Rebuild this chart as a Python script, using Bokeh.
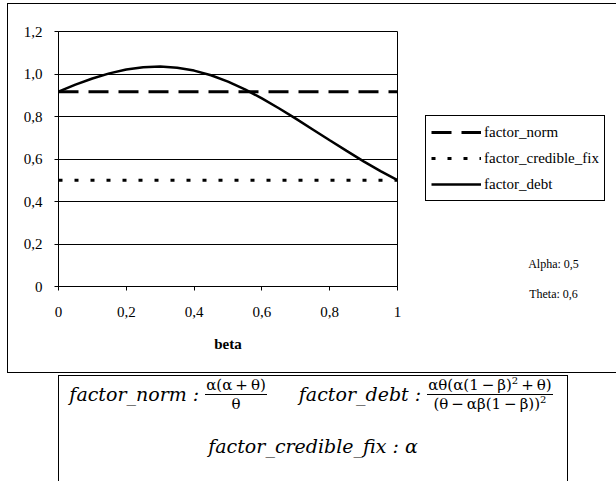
from bokeh.plotting import figure
from bokeh.models import (Range1d, FixedTicker, CustomJSTickFormatter, Legend, LegendItem,
                          Label, Div)
from bokeh.layouts import column, row
from bokeh.embed import file_html
from bokeh.resources import INLINE

# ---- data ----
beta = [0, 0.05, 0.1, 0.15, 0.2, 0.25, 0.3, 0.35, 0.4, 0.45, 0.5,
        0.55, 0.6, 0.65, 0.7, 0.75, 0.8, 0.85, 0.9, 0.95, 1]
factor_debt = [0.917, 0.950, 0.979, 1.003, 1.021, 1.032, 1.035, 1.029, 1.016, 0.994, 0.964,
               0.928, 0.885, 0.839, 0.790, 0.739, 0.688, 0.638, 0.589, 0.543, 0.5]
flat_beta = [0, 1]
factor_norm = [0.917, 0.917]
factor_credible_fix = [0.5, 0.5]
x_ticks = [0, 0.2, 0.4, 0.6, 0.8, 1]
y_ticks = [0, 0.2, 0.4, 0.6, 0.8, 1.0, 1.2]
param_texts = ["Alpha: 0,5", "Theta: 0,6"]
series_names = ["factor_norm", "factor_credible_fix", "factor_debt"]

FONT = "Liberation Serif"
NORM_STYLE = dict(line_color="black", line_width=3, line_dash="20 10")
CRED_STYLE = dict(line_color="black", line_width=3, line_dash="4 12")
DEBT_STYLE = dict(line_color="black", line_width=2.5)

# ---- main chart ----
p = figure(width=394, height=368, output_backend="svg", toolbar_location=None,
           x_range=Range1d(0, 1), y_range=Range1d(0, 1.2),
           min_border_left=50, min_border_top=27, min_border_right=5, min_border_bottom=86,
           frame_width=339, frame_height=255, frame_align=False)
p.outline_line_color = "black"
p.outline_line_width = 1
p.background_fill_color = "white"
p.border_fill_color = "white"

p.line(flat_beta, factor_norm, **NORM_STYLE)
p.line(flat_beta, factor_credible_fix, **CRED_STYLE)
p.line(beta, factor_debt, **DEBT_STYLE)

fmt_x = CustomJSTickFormatter(code="""
if (Math.abs(tick) < 1e-9) return '0';
if (Math.abs(tick - 1) < 1e-9) return '1';
return tick.toFixed(1).replace('.', ',');
""")
fmt_y = CustomJSTickFormatter(code="""
if (Math.abs(tick) < 1e-9) return '0';
return tick.toFixed(1).replace('.', ',');
""")

xa = p.xaxis[0]
xa.ticker = FixedTicker(ticks=x_ticks)
xa.formatter = fmt_x
ya = p.yaxis[0]
ya.ticker = FixedTicker(ticks=y_ticks)
ya.formatter = fmt_y
for ax in (xa, ya):
    ax.axis_line_color = "black"
    ax.axis_line_width = 1
    ax.major_tick_line_color = "black"
    ax.major_tick_out = 4
    ax.major_tick_in = 0
    ax.minor_tick_line_color = None
    ax.major_label_text_font = FONT
    ax.major_label_text_font_size = "15px"
    ax.major_label_text_color = "black"
xa.major_label_standoff = 16
ya.major_label_standoff = 12
xa.axis_label = "beta"
xa.axis_label_text_font = FONT
xa.axis_label_text_font_style = "bold"
xa.axis_label_text_font_size = "15px"
xa.axis_label_text_color = "black"
xa.axis_label_standoff = 16

p.xgrid.grid_line_color = None
p.ygrid.grid_line_color = "black"
p.ygrid.grid_line_width = 1
p.ygrid.ticker = FixedTicker(ticks=y_ticks)

# ---- right side panel: legend + parameters ----
q = figure(width=214, height=368, output_backend="svg", toolbar_location=None, title=None,
           x_range=Range1d(0, 191), y_range=Range1d(0, 257),
           min_border_left=23, min_border_top=111, min_border_right=0, min_border_bottom=0,
           frame_width=191, frame_height=257, frame_align=False,
           x_axis_location=None, y_axis_location=None)
q.outline_line_color = None
q.xgrid.grid_line_color = None
q.ygrid.grid_line_color = None
q.background_fill_color = "white"
q.border_fill_color = "white"
# proxy renderers for the legend keys: same series, on a range that keeps them out of view
q.extra_x_ranges = {"off": Range1d(10, 20)}
q.extra_y_ranges = {"off": Range1d(10, 20)}
ln = q.line(flat_beta, factor_norm, x_range_name="off", y_range_name="off", **NORM_STYLE)
lc = q.line(flat_beta, factor_credible_fix, x_range_name="off", y_range_name="off", **CRED_STYLE)
ld = q.line(beta, factor_debt, x_range_name="off", y_range_name="off", **DEBT_STYLE)

legend = Legend(items=[LegendItem(label=series_names[0], renderers=[ln]),
                       LegendItem(label=series_names[1], renderers=[lc]),
                       LegendItem(label=series_names[2], renderers=[ld])],
                location="top_left", margin=0, padding=5, spacing=4,
                glyph_width=50, glyph_height=22, label_height=22, label_standoff=3,
                label_text_font=FONT, label_text_font_size="15px", label_text_color="black",
                border_line_color="black", border_line_width=1, border_line_alpha=1,
                background_fill_color="white", background_fill_alpha=1)
q.add_layout(legend, "center")

for txt, yy in zip(param_texts, [109, 79]):
    q.add_layout(Label(x=128, y=yy, text=txt,
                       text_align="center", text_baseline="middle",
                       text_font=FONT, text_font_size="12px", text_color="black"))

chart = row(p, q, spacing=0, margin=(3, 0, 0, 7),
            styles={"border-left": "1px solid black", "border-top": "1px solid black",
                    "border-bottom": "1px solid black"})

# ---- formula box ----
MF = "font-family:DejaVu Serif;font-style:italic;font-size:19px;"
SF = "font-family:DejaVu Serif;font-size:15px;"
OP = lambda s: '<span style="margin:0 3px;">' + s + '</span>'

def frac(num, den):
    return ('<span style="display:inline-flex;flex-direction:column;align-items:center;'
            'vertical-align:middle;margin-left:6px;' + SF + '">'
            '<span style="padding:0 1px 1px 1px;line-height:16px;white-space:nowrap;">' + num + '</span>'
            '<span style="border-top:1px solid black;width:100%;text-align:center;'
            'padding-top:1px;line-height:16px;white-space:nowrap;">' + den + '</span></span>')

SUP = '<sup style="font-size:10px;line-height:0;">2</sup>'
html = (
    '<div style="position:relative;width:508px;height:104px;color:black;">'
    '<div style="position:absolute;left:0;top:1px;width:504px;display:flex;'
    'justify-content:center;align-items:center;gap:32px;">'
    '<span style="display:inline-flex;align-items:center;white-space:nowrap;">'
    '<span style="' + MF + '">factor_norm :</span>'
    + frac("α(α" + OP("+") + "θ)", "θ") + '</span>'
    '<span style="display:inline-flex;align-items:center;white-space:nowrap;">'
    '<span style="' + MF + '">factor_debt :</span>'
    + frac("αθ(α(1" + OP("−") + "β)" + SUP + OP("+") + "θ)",
           "(θ" + OP("−") + "αβ(1" + OP("−") + "β))" + SUP) + '</span></div>'
    '<div style="position:absolute;left:0;top:57px;width:508px;text-align:center;' + MF + '">'
    'factor_credible_fix : α</div>'
    '</div>'
)
div = Div(text=html, width=510, height=106, margin=(2, 0, 0, 58),
          styles={"border-left": "1px solid black", "border-right": "1px solid black",
                  "border-top": "1px solid black", "box-sizing": "border-box",
                  "background": "white"})

layout = column(chart, div, spacing=0)
open("out.html", "w").write(file_html(layout, INLINE))
